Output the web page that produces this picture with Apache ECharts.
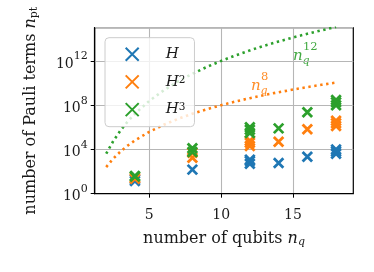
<!DOCTYPE html>
<html><head><meta charset="utf-8">
<script src="https://cdn.jsdelivr.net/npm/echarts@6/dist/echarts.min.js"></script>
<style>html,body{margin:0;padding:0;background:#fff}#c{width:374px;height:272px}</style>
</head><body><div id="c"></div>
<script>
// ---- data ----
const qubitsH  = [4, 4, 8, 12, 12, 12, 14, 16, 18, 18, 18];
const termsH   = [20, 14, 150, 500, 900, 1200, 600, 2200, 4000, 6500, 10000];
const qubitsH2 = [4, 4, 8, 8, 12, 12, 12, 14, 16, 18, 18, 18];
const termsH2  = [28, 22, 1800, 5000, 20000, 40000, 60000, 50000, 660000, 1300000, 2300000, 4000000];
const qubitsH3 = [4, 4, 8, 8, 12, 12, 12, 14, 16, 18, 18, 18];
const termsH3  = [35, 40, 6000, 13000, 300000, 600000, 1000000, 800000, 23000000, 100000000, 180000000, 300000000];
const lineQubits = [2, 2.5, 3, 3.5, 4, 5, 6, 7, 8, 9, 10, 11, 12, 13, 14, 15, 16, 17, 18];
const lineN8  = [256, 1526, 6561, 22500, 65536, 390625, 1.68e6, 5.76e6, 1.68e7, 4.30e7, 1e8, 2.14e8, 4.30e8, 8.16e8, 1.48e9, 2.56e9, 4.30e9, 6.98e9, 1.10e10];
const lineN12 = [4096, 59600, 531441, 3.38e6, 1.68e7, 2.44e8, 2.18e9, 1.38e10, 6.87e10, 2.82e11, 1e12, 3.14e12, 8.9e12, 2.33e13, 5.67e13, 1.30e14, 2.81e14, 5.83e14, 1.16e15];
const xTicks = [5, 10, 15];
const seriesNames = ['H', 'H2', 'H3'];

const C = {blue: '#1f77b4', orange: '#ff7f0e', green: '#2ca02c'};
const SERIF = '"DejaVu Serif", "Liberation Serif", serif';
const TXT = '#1a1a1a';
const xMark = 'path://M0,0L10,10M10,0L0,10';

function pairs(xs, ys) { return xs.map((x, i) => [x, ys[i]]); }
function scatter(name, xs, ys, color) {
  return {
    name, type: 'scatter', data: pairs(xs, ys), symbol: xMark, symbolSize: 9.5,
    itemStyle: {color: color, borderColor: color, borderWidth: 2.8, opacity: 1},
    z: 5
  };
}
function mathLabel(x, y, sup, color) {
  const f = {fontFamily: SERIF, fill: color, opacity: 0.9};
  return {type: 'group', left: x, top: y, z: 20, children: [
    {type: 'text', x: 0, y: 8, style: Object.assign({text: 'n', fontSize: 15, fontStyle: 'italic'}, f)},
    {type: 'text', x: 10, y: 0, style: Object.assign({text: sup, fontSize: 11.5}, f)},
    {type: 'text', x: 9.5, y: 15, style: Object.assign({text: 'q', fontSize: 11, fontStyle: 'italic'}, f)}
  ]};
}
const chart = echarts.init(document.getElementById('c'), null, {renderer: 'canvas'});
chart.setOption({
  animation: false,
  grid: {left: 94.7, right: 20.7, top: 27.7, bottom: 78.3, show: true, borderColor: '#000', borderWidth: 1.2, backgroundColor: 'transparent'},
  xAxis: {
    type: 'value', min: 1.2, max: 19.2,
    axisLine: {show: true, lineStyle: {color: '#000', width: 1.2}},
    axisTick: {show: true, customValues: xTicks, length: 4, lineStyle: {color: '#000', width: 1}},
    axisLabel: {customValues: xTicks, color: TXT, fontFamily: SERIF, fontSize: 14, margin: 15},
    splitLine: {show: true, lineStyle: {color: '#b6b6b6', width: 1.1}},
    name: '{t|number of qubits }{i|n}{s|q}', nameLocation: 'middle', nameGap: 36,
    nameTextStyle: {rich: {
      t: {fontFamily: SERIF, fontSize: 16, color: TXT},
      i: {fontFamily: SERIF, fontSize: 16, fontStyle: 'italic', color: TXT},
      s: {fontFamily: SERIF, fontSize: 11, fontStyle: 'italic', color: TXT, verticalAlign: 'bottom', padding: [7, 0, 0, 0]}
    }}
  },
  yAxis: {
    type: 'log', logBase: 10, min: 1, max: 1e15, interval: 4,
    axisLine: {show: true, lineStyle: {color: '#000', width: 1.2}},
    axisTick: {show: true, length: 4, lineStyle: {color: '#000', width: 1}},
    minorTick: {show: false},
    axisLabel: {
      margin: 7, showMaxLabel: false,
      formatter: v => '{b|10}{s|' + Math.round(Math.log10(v)) + '}',
      rich: {
        b: {fontFamily: SERIF, fontSize: 14, color: TXT, lineHeight: 20, verticalAlign: 'bottom'},
        s: {fontFamily: SERIF, fontSize: 11, color: TXT, lineHeight: 11, verticalAlign: 'top'}
      }
    },
    splitLine: {show: true, lineStyle: {color: '#b6b6b6', width: 1.1}},
    name: '{t|number of Pauli terms }{i|n}{s|pt}', nameLocation: 'middle', nameGap: 55,
    nameTextStyle: {rich: {
      t: {fontFamily: SERIF, fontSize: 16, color: TXT},
      i: {fontFamily: SERIF, fontSize: 16, fontStyle: 'italic', color: TXT},
      s: {fontFamily: SERIF, fontSize: 11, color: TXT, verticalAlign: 'bottom', padding: [7, 0, 0, 0]}
    }}
  },
  legend: {
    orient: 'vertical', left: 105, top: 37.7,
    data: seriesNames,
    padding: [9, 9, 9.6, 19.7], itemGap: 12.7, itemWidth: 13, itemHeight: 13,
    backgroundColor: 'rgba(255,255,255,0.8)', borderColor: '#cccccc', borderWidth: 1, borderRadius: 4,
    formatter: n => n === 'H' ? '{i|H}' : '{i|H}{s|' + n.slice(1) + '}',
    textStyle: {rich: {
      i: {fontFamily: SERIF, fontSize: 15, fontStyle: 'italic', color: TXT, padding: [0, 0, 0, 22]},
      s: {fontFamily: SERIF, fontSize: 10.5, color: TXT, verticalAlign: 'top'}
    }},
    z: 10
  },
  series: [
    {name: 'n8', type: 'line', data: pairs(lineQubits, lineN8), showSymbol: false, symbol: 'none',
     lineStyle: {color: C.orange, width: 2.6, type: [2.4, 3.6], cap: 'butt'}, z: 1, silent: true},
    {name: 'n12', type: 'line', data: pairs(lineQubits, lineN12), showSymbol: false, symbol: 'none',
     lineStyle: {color: C.green, width: 2.6, type: [2.4, 3.6], cap: 'butt'}, z: 1, silent: true},
    scatter('H', qubitsH, termsH, C.blue),
    scatter('H2', qubitsH2, termsH2, C.orange),
    scatter('H3', qubitsH3, termsH3, C.green)
  ],
  graphic: [
    mathLabel(293, 41, '12', C.green),
    mathLabel(251, 71, '8', C.orange)
  ]
});
</script></body></html>
